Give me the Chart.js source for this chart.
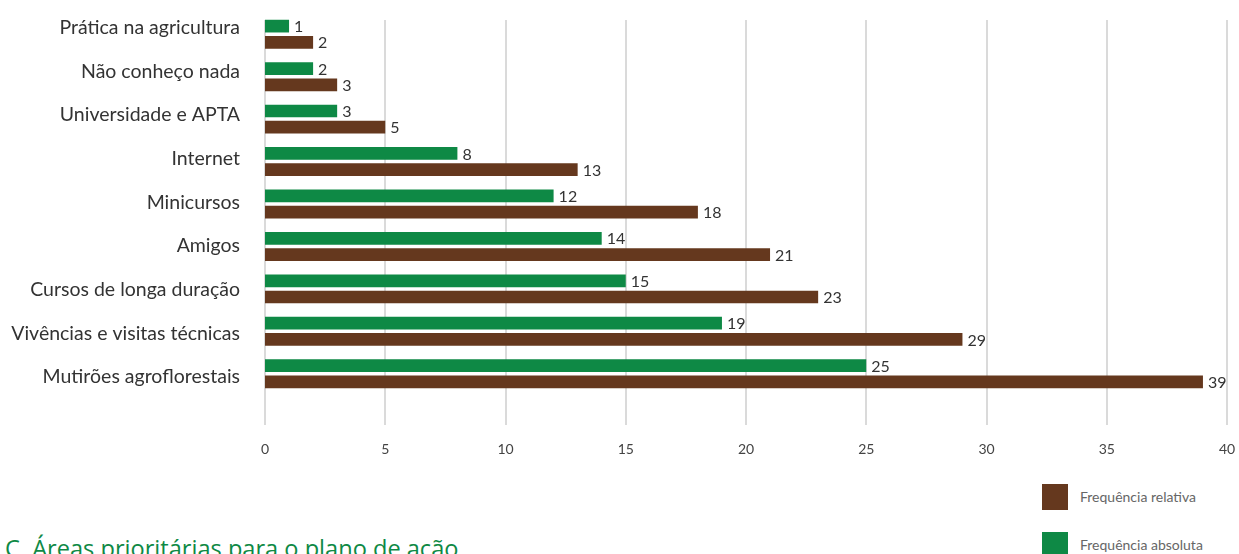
<!DOCTYPE html>
<html lang="pt">
<head>
<meta charset="utf-8">
<title>Fontes de conhecimento</title>
<script src="https://cdn.jsdelivr.net/npm/chart.js@4.4.1/dist/chart.umd.min.js"></script>
<style>
  html, body { margin: 0; padding: 0; background: #fff; }
  body { width: 1239px; height: 554px; position: relative; overflow: hidden; font-family: Lato, "Open Sans", sans-serif; }
  #c { position: absolute; left: 0; top: 0; }
  .legend { position: absolute; left: 1042px; font-size: 14px; color: #666; }
  .legend .item { position: absolute; left: 0; width: 200px; height: 26px; }
  .legend .sw { position: absolute; left: 0; top: 0; width: 26px; height: 26px; }
  .legend .tx { position: absolute; left: 38px; top: 4px; white-space: nowrap; }
  .title { position: absolute; left: 5px; top: 533px; font-family: "Open Sans", sans-serif; font-size: 23.6px; color: #0e8945; white-space: nowrap; line-height: 30px; }
</style>
</head>
<body>
<canvas id="c" width="1239" height="470"></canvas>
<div class="legend" style="top:484px">
  <div class="item" style="top:0"><div class="sw" style="background:#65381e"></div><div class="tx">Frequência relativa</div></div>
  <div class="item" style="top:48px"><div class="sw" style="background:#0e8945"></div><div class="tx">Frequência absoluta</div></div>
</div>
<div class="title">C. Áreas prioritárias para o plano de ação</div>
<script>
const categories = [
  "Prática na agricultura",
  "Não conheço nada",
  "Universidade e APTA",
  "Internet",
  "Minicursos",
  "Amigos",
  "Cursos de longa duração",
  "Vivências e visitas técnicas",
  "Mutirões agroflorestais"
];
const absoluta = [1, 2, 3, 8, 12, 14, 15, 19, 25];
const relativa = [2, 3, 5, 13, 18, 21, 23, 29, 39];
const xTicks = [0, 5, 10, 15, 20, 25, 30, 35, 40];

const GREEN = "#0e8945";
const BROWN = "#65381e";

// plot box in canvas pixels
const AREA = { left: 265, right: 1227, top: 13, bottom: 395 };

// pin the chart area to a fixed box so the bars line up with the labels
const fixArea = {
  id: "fixArea",
  afterLayout(chart) {
    const a = chart.chartArea;
    a.left = AREA.left; a.right = AREA.right; a.top = AREA.top; a.bottom = AREA.bottom;
    a.width = a.right - a.left; a.height = a.bottom - a.top;
    const x = chart.scales.x, y = chart.scales.y;
    x.left = AREA.left; x.right = AREA.right; x.width = AREA.right - AREA.left;
    x.top = AREA.bottom; x.bottom = 470; x.height = 470 - AREA.bottom;
    x.configure();
    y.top = AREA.top; y.bottom = AREA.bottom; y.height = AREA.bottom - AREA.top;
    y.left = 0; y.right = AREA.left; y.width = AREA.left;
    y.configure();
  }
};

// vertical grid lines drawn at each x tick, running a bit past the bars
const gridLines = {
  id: "gridLines",
  beforeDatasetsDraw(chart) {
    const { ctx } = chart;
    const x = chart.scales.x;
    ctx.save();
    ctx.strokeStyle = "#dadada";
    ctx.lineWidth = 2;
    xTicks.forEach(v => {
      const px = Math.round(x.getPixelForValue(v));
      ctx.beginPath();
      ctx.moveTo(px, 20);
      ctx.lineTo(px, 425);
      ctx.stroke();
    });
    ctx.restore();
  }
};

// category names, right-aligned left of the bars; they sit a little higher
// than the bar pair at the top and spread slightly wider down the list
const categoryLabels = {
  id: "categoryLabels",
  afterDraw(chart) {
    const { ctx } = chart;
    const y = chart.scales.y;
    ctx.save();
    ctx.fillStyle = "#333";
    ctx.font = "19.5px Lato, 'Open Sans', sans-serif";
    ctx.textAlign = "right";
    ctx.textBaseline = "middle";
    categories.forEach((name, i) => {
      const py = y.getPixelForValue(i) - 6.5 + 1.2 * i;
      ctx.fillText(name, 240, py);
    });
    ctx.restore();
  }
};

// value printed just past the end of each bar
const valueLabels = {
  id: "valueLabels",
  afterDatasetsDraw(chart) {
    const { ctx } = chart;
    ctx.save();
    ctx.fillStyle = "#333";
    ctx.font = "16px Lato, 'Open Sans', sans-serif";
    ctx.textAlign = "left";
    ctx.textBaseline = "middle";
    chart.data.datasets.forEach((ds, i) => {
      chart.getDatasetMeta(i).data.forEach((bar, j) => {
        ctx.fillText(String(ds.data[j]), bar.x + 5, bar.y + 1);
      });
    });
    ctx.restore();
  }
};

new Chart(document.getElementById("c"), {
  type: "bar",
  data: {
    labels: categories,
    datasets: [
      { label: "Frequência absoluta", data: absoluta, backgroundColor: GREEN },
      { label: "Frequência relativa", data: relativa, backgroundColor: BROWN }
    ]
  },
  options: {
    indexAxis: "y",
    responsive: false,
    animation: false,
    layout: { padding: 0 },
    datasets: { bar: { categoryPercentage: 0.764, barPercentage: 0.784 } },
    plugins: { legend: { display: false }, tooltip: { enabled: false } },
    scales: {
      x: {
        min: 0, max: 40,
        afterBuildTicks(s) { s.ticks = xTicks.map(v => ({ value: v })); },
        grid: { display: false },
        border: { display: false },
        ticks: { padding: 38, color: "#444", maxRotation: 0, font: { family: "Lato, 'Open Sans', sans-serif", size: 14 } }
      },
      y: {
        grid: { display: false },
        border: { display: false },
        ticks: { display: false }
      }
    }
  },
  plugins: [fixArea, gridLines, categoryLabels, valueLabels]
});
</script>
</body>
</html>
